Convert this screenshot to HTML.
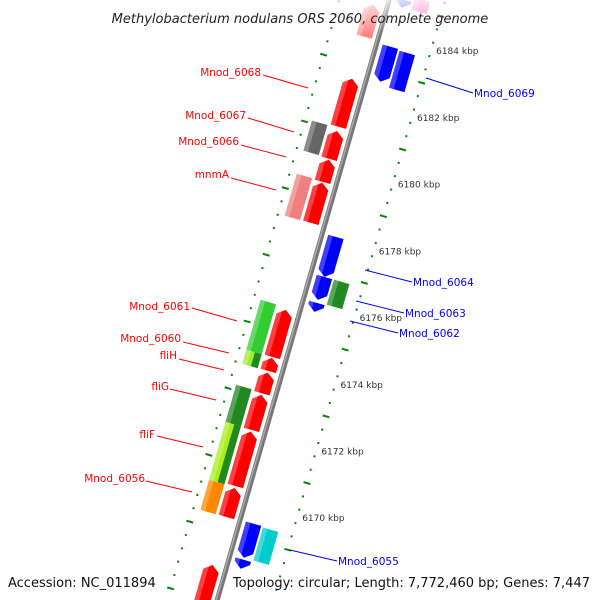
<!DOCTYPE html>
<html><head><meta charset="utf-8"><style>
html,body{margin:0;background:#fff;overflow:hidden;width:600px;height:600px}
svg{display:block;overflow:hidden;font-family:"DejaVu Sans","Liberation Sans",sans-serif}
</style></head><body>
<svg id="map" width="600" height="600" viewBox="0 0 600 600" xmlns="http://www.w3.org/2000/svg">
<g id="track"></g>
<g id="ann"></g>
<rect x="0" y="0" width="600" height="34" fill="url(#fade)"/>
<defs><linearGradient id="fade" x1="0" y1="0" x2="0" y2="1"><stop offset="0" stop-color="#fff" stop-opacity="0.75"/><stop offset="1" stop-color="#fff" stop-opacity="0"/></linearGradient></defs>
<text x="300" y="23" text-anchor="middle" font-size="13" font-style="italic" fill="#222">Methylobacterium nodulans ORS 2060, complete genome</text>
<text x="8" y="587" font-size="13" fill="#111">Accession: NC_011894</text>
<text x="590" y="587" text-anchor="end" font-size="13" fill="#111">Topology: circular; Length: 7,772,460 bp; Genes: 7,447</text>
</svg>
<script>
// data (kbp)
var geneStart=[6184.78,6182.56,6180.99,6180.13,6179.44,6175.63,6174.19,6173.75,6173.08,6171.98,6170.29,6167.98,
 6181.08,6179.49,6175.71,6174.21,6173.16,6172.05,6172.05,6170.31,6174.21,
 6185.16,6183.75,6178.05,6176.85,6176.07,6169.45,6168.37,
 6185.3,6183.71,6176.85,6169.42];
var geneEnd=[6183.82,6181.12,6180.16,6179.47,6178.24,6174.22,6173.80,6173.13,6172.03,6170.35,6169.42,6166.6,
 6180.18,6178.23,6174.21,6173.79,6172.02,6170.31,6170.31,6169.41,6173.79,
 6184.92,6182.70,6176.85,6176.16,6175.80,6168.43,6168.10,
 6184.94,6182.6,6176.1,6168.43];
var geneTrack=["il","il","il","il","il","il","il","il","il","il","il","il",
 "ol","ol","ol","ol","ol","ol","olr","ol","olr",
 "ir","ir","ir","ir","ir","ir","ir",
 "or","or","or","or"];
var geneColor=["#f22","#f00","#f00","#f00","#f00","#f00","#f00","#f00","#f00","#f00","#f00","#f00",
 "#666","#f08080","#3c3","#9e3","#282","#ae2","#282","#f80","#282",
 "#00f","#00f","#00f","#00f","#00f","#00f","#00f",
 "#f2a","#00f","#282","#0cc"];
var tickKbp=[6170,6172,6174,6176,6178,6180,6182,6184];
var tickLabels=["6170 kbp","6172 kbp","6174 kbp","6176 kbp","6178 kbp","6180 kbp","6182 kbp","6184 kbp"];

var NS="http://www.w3.org/2000/svg";
var th=16*Math.PI/180, C=Math.cos(th), S=Math.sin(th), cx=298, cy=300, PX=34.7, K0=6176;
function vOf(k){return (K0-k)*PX;}
function G(u,v){return [cx+u*C-v*S, cy+u*S+v*C];}
function pts(a){return a.map(function(p){var g=G(p[0],p[1]);return g[0].toFixed(1)+","+g[1].toFixed(1);}).join(" ");}
var tracks={il:[-17,-1],ol:[-36,-20],olr:[-27,-20],ir:[11,27],or:[29,45]};
var trk=document.getElementById('track');
function el(tag,attrs,parent){var e=document.createElementNS(NS,tag);for(var k in attrs)e.setAttribute(k,attrs[k]);(parent||trk).appendChild(e);return e;}

// rings
for(var n=0;n<=55;n++){
  var kk=Math.round((6165+n*0.4)*10)/10; var major=(n%5)==0;
  [59,-43].forEach(function(u){
    var a=G(u-(major?3.5:1),vOf(kk)),b=G(u+(major?3.5:1),vOf(kk));
    var d=el('line',{x1:a[0],y1:a[1],x2:b[0],y2:b[1],stroke:'#080','stroke-width':2});
    
    
  });
}
// backbone
var b1=G(5,-420),b2=G(5,420);
var bb=el('line',{x1:b1[0],y1:b1[1],x2:b2[0],y2:b2[1],stroke:'#777','stroke-width':5});


el('line',{x1:b1[0]-1,y1:b1[1],x2:b2[0]-1,y2:b2[1],stroke:'#aaa','stroke-width':1.5});

// genes
for(var i=0;i<geneStart.length;i++){
  var t=tracks[geneTrack[i]], u1=t[0], u2=t[1], um=(u1+u2)/2;
  var va=vOf(geneStart[i]), vb=vOf(geneEnd[i]);
  var vt=Math.min(va,vb), vbm=Math.max(va,vb), h=Math.min(6,(vbm-vt));
  var shape;
  if(geneTrack[i]=="il") shape=[[u1,vbm],[u1,vt+h],[um,vt],[u2,vt+h],[u2,vbm]];
  else if(geneTrack[i]=="ir") shape=[[u1,vt],[u2,vt],[u2,vbm-h],[um,vbm],[u1,vbm-h]];
  else shape=[[u1,vt],[u2,vt],[u2,vbm],[u1,vbm]];
  var g=el('polygon',{points:pts(shape),fill:geneColor[i],opacity:i==0||i==21||i==28?0.55:1});
  
  
  if(geneTrack[i]!="olr"){
    var w=(u2-u1)*0.3;
    var hl=shape.map(function(p){return [Math.min(p[0],u1+w),p[1]];});
    el('polygon',{points:pts(hl),fill:'#fff',opacity:0.25});
  }
}
// tick labels
for(var j=0;j<tickKbp.length;j++){
  var p=G(62,vOf(tickKbp[j]));
  var tx=el('text',{x:p[0]+2,y:p[1]+4,'font-size':9,fill:'#333'});
  tx.textContent=tickLabels[j];
  
  
}
// gene labels
var ann=document.getElementById('ann');
var L=[["Mnod_6068",261,76,263,75,308,88,"#f00","end"],["Mnod_6067",246,119,248,118,294,132,"#f00","end"],
 ["Mnod_6066",239,145,241,145,286,157,"#f00","end"],["mnmA",229,178,231,178,276,190,"#f00","end"],
 ["Mnod_6061",190,310,192,308,237,321,"#f00","end"],["Mnod_6060",181,342,183,342,229,353,"#f00","end"],
 ["fliH",177,359,179,359,224,370,"#f00","end"],["fliG",169,390,170,389,216,400,"#f00","end"],
 ["fliF",155,438,157,436,203,447,"#f00","end"],["Mnod_6056",145,482,146,481,192,492,"#f00","end"],
 ["Mnod_6069",474,97,426,78,473,93,"#00f","start"],["Mnod_6064",413,286,365,270,412,282,"#00f","start"],
 ["Mnod_6063",405,317,356,301,404,313,"#00f","start"],["Mnod_6062",399,337,350,321,398,333,"#00f","start"],
 ["Mnod_6055",338,565,290,550,337,561,"#00f","start"]];
L.forEach(function(a){
  var ln=el('line',{x1:a[3],y1:a[4],x2:a[5],y2:a[6],stroke:a[7],'stroke-width':1},ann);
  
  
  var t=el('text',{x:a[1],y:a[2],'font-size':10.5,fill:a[7],'text-anchor':a[8]},ann);
  t.textContent=a[0];
  
  
});
</script>
</body></html>
